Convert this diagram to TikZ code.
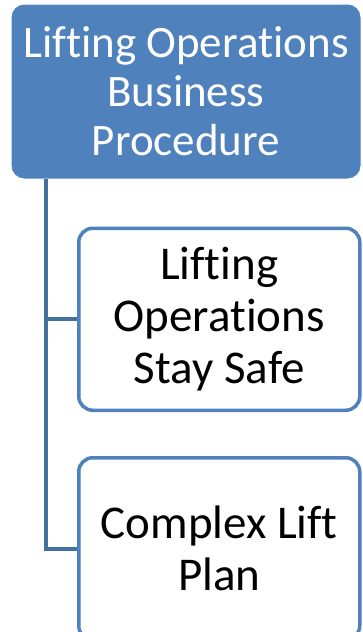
\documentclass[tikz,border=0pt]{standalone}
\usepackage{fontspec}
\setmainfont[Ligatures=NoCommon]{Carlito}
\usepackage{xcolor}
\usetikzlibrary{positioning}

\definecolor{procblue}{HTML}{4F81BD}
\definecolor{linkblue}{HTML}{41719C}

\begin{document}
\begin{tikzpicture}[
  x=1pt, y=1pt,
  proc/.style={draw=white, line width=1pt, fill=procblue, rounded corners=13pt, minimum width=350pt, minimum height=175pt, align=center, text=white, font=\fontsize{45}{49}\selectfont},
  item/.style={draw=procblue, line width=3.5pt, fill=white, rounded corners=14pt, minimum width=281pt, minimum height=182pt, align=center, font=\fontsize{47}{52}\selectfont},
  link/.style={draw=linkblue, line width=4pt}
]
  \useasboundingbox (0,0) rectangle (362,-632);
  \clip (0,0) rectangle (362,-632);

  \node[proc] (lops) at (186,-91.5) {Lifting Operations\\Business\\Procedure};
  \node[item, below left=47pt and 0pt of lops.south east] (safe) {Lifting\\Operations\\Stay Safe};
  \node[item, below=44pt of safe] (clp) {Complex Lift\\Plan};

  \coordinate (trunk) at (45.5,-179);
  \draw[link] (trunk) |- (safe.west);
  \draw[link] (trunk) |- (clp.west);
\end{tikzpicture}
\end{document}
